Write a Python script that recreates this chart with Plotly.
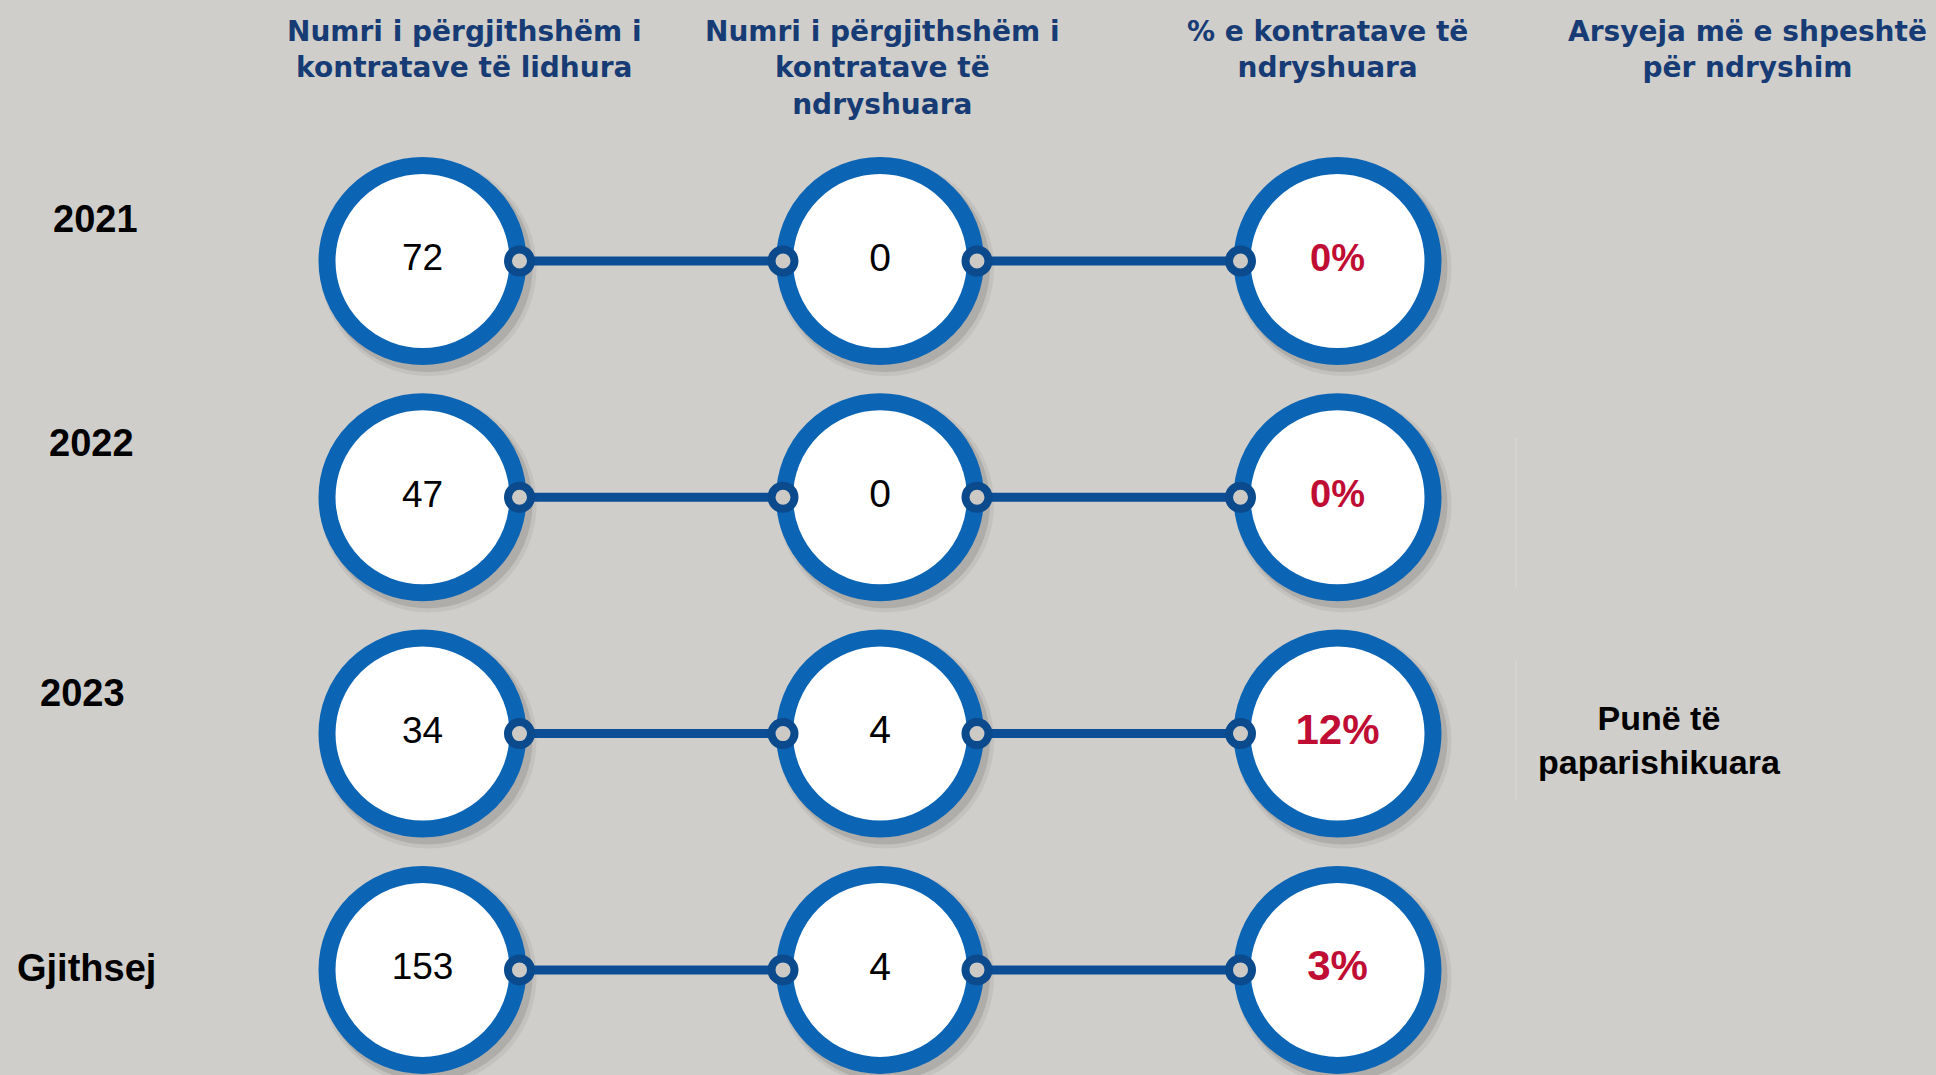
import plotly.graph_objects as go

# ---------------- data ----------------
years = ["2021", "2022", "2023", "Gjithsej"]
headers = [
    "Numri i përgjithshëm i<br>kontratave të lidhura",
    "Numri i përgjithshëm i<br>kontratave të<br>ndryshuara",
    "% e kontratave të<br>ndryshuara",
    "Arsyeja më e shpeshtë<br>për ndryshim",
]
contracts_total = [72, 47, 34, 153]
contracts_modified = [0, 0, 4, 4]
pct_modified = [0, 0, 12, 3]
reasons = ["", "", "Punë të<br>paparishikuara", ""]

# ---------------- layout geometry (page pixels) ----------------
W, H = 1936, 1075
X0, DX = 422.5, 457.5  # page x of first column centre, spacing
Y0, DY = 261.0, 236.3  # page y of first row centre, spacing

BG = "#cfceca"
RING = "#0c64b4"
LINE = "#0b4e96"
KNOB = "#0b4a8c"
RED = "#c00d34"
NAVY = "#173b74"

R_PATH = 95.5   # radius of ring centre line (px)
RING_W = 17

xr = [-X0 / DX, (W - X0) / DX]
yr = [(H - Y0) / DY, -Y0 / DY]

ncol = 3
rows = list(range(len(years)))
cols = list(range(ncol))

cx, cy = [], []
for r in rows:
    for c in cols:
        cx.append(c)
        cy.append(r)

fig = go.Figure()

# soft shadows
for off, size, alpha in [(6, 216, 0.10), (5, 210, 0.20)]:
    fig.add_trace(go.Scatter(
        x=[v + off / DX for v in cx], y=[v + (off + 1) / DY for v in cy],
        mode="markers",
        marker=dict(size=size, color=f"rgba(95,92,86,{alpha})", line=dict(width=0)),
        hoverinfo="skip", showlegend=False))

# big rings
fig.add_trace(go.Scatter(
    x=cx, y=cy, mode="markers",
    marker=dict(size=2 * R_PATH, color="white", line=dict(width=RING_W, color=RING)),
    hoverinfo="skip", showlegend=False))

# connectors
dx_edge = 97 / DX
lx, ly, kx, ky = [], [], [], []
for r in rows:
    for c in range(ncol - 1):
        a, b = c + dx_edge, c + 1 - dx_edge
        lx += [a, b, None]
        ly += [r, r, None]
        kx += [a, b]
        ky += [r, r]
fig.add_trace(go.Scatter(x=lx, y=ly, mode="lines", line=dict(color=LINE, width=9),
                         hoverinfo="skip", showlegend=False))
fig.add_trace(go.Scatter(
    x=kx, y=ky, mode="markers",
    marker=dict(size=23, color="#cdcac5", line=dict(width=8, color=KNOB)),
    hoverinfo="skip", showlegend=False))

# values
fig.add_trace(go.Scatter(
    x=[0] * len(rows), y=rows, mode="text", text=[str(v) for v in contracts_total],
    textfont=dict(family="Liberation Sans, Arial", size=37, color="black"),
    hoverinfo="skip", showlegend=False))
fig.add_trace(go.Scatter(
    x=[1] * len(rows), y=rows, mode="text", text=[str(v) for v in contracts_modified],
    textfont=dict(family="Liberation Sans, Arial", size=39, color="black"),
    hoverinfo="skip", showlegend=False))
fig.add_trace(go.Scatter(
    x=[2] * len(rows), y=rows, mode="text", text=[f"<b>{v}%</b>" for v in pct_modified],
    textfont=dict(family="Liberation Sans, Arial", size=[38, 38, 42, 42], color=RED),
    hoverinfo="skip", showlegend=False))

annotations = []
# headers
header_x = [464, 882, 1327, 1747]
for h, px in zip(headers, header_x):
    annotations.append(dict(
        x=(px - X0) / DX, xref="x", y=1, yref="paper", yanchor="top", xanchor="center",
        yshift=-13, text=f"<b>{h}</b>", showarrow=False, align="center",
        font=dict(family="DejaVu Sans", size=28, color=NAVY)))

# row labels
label_px = [(95, 219), (91, 443), (82, 693), (86, 968)]
for r, (lab, (px, py)) in enumerate(zip(years, label_px)):
    annotations.append(dict(
        x=(px - X0) / DX, xref="x", y=r, yref="y", yshift=(Y0 + r * DY) - py,
        text=f"<b>{lab}</b>", showarrow=False, xanchor="center", yanchor="middle",
        font=dict(family="Liberation Sans, Arial", size=38, color="black")))

# reasons
for r, txt in enumerate(reasons):
    if txt:
        annotations.append(dict(
            x=(1659 - X0) / DX, xref="x", y=r, yref="y", yshift=-6,
            text=f"<b>{txt}</b>", showarrow=False, align="center",
            xanchor="center", yanchor="middle",
            font=dict(family="Liberation Sans, Arial", size=34, color="black")))

shapes = [
    dict(type="line", xref="x", yref="y", x0=(1516 - X0) / DX, x1=(1516 - X0) / DX,
         y0=(438 - Y0) / DY, y1=(587 - Y0) / DY, line=dict(color="#dcdbd7", width=1)),
    dict(type="line", xref="x", yref="y", x0=(1516 - X0) / DX, x1=(1516 - X0) / DX,
         y0=(661 - Y0) / DY, y1=(800 - Y0) / DY, line=dict(color="#dcdbd7", width=1)),
]

fig.update_layout(
    width=W, height=H, margin=dict(l=0, r=0, t=0, b=0),
    paper_bgcolor=BG, plot_bgcolor=BG,
    xaxis=dict(range=xr, visible=False, fixedrange=True),
    yaxis=dict(range=yr, visible=False, fixedrange=True),
    annotations=annotations, shapes=shapes,
)

fig.write_html(
    "out.html",
    config={"displayModeBar": False},
    post_script=(
        "document.body.style.margin='0';"
        "document.body.style.overflow='hidden';"
        f"document.body.style.background='{BG}';"
    ),
)
